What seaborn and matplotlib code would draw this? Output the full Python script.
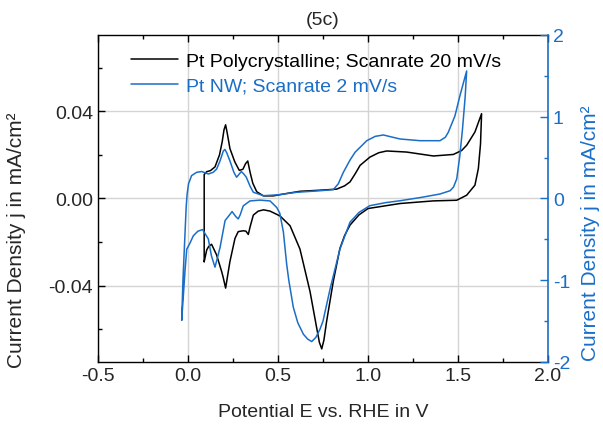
import numpy as np
import pandas as pd
import seaborn as sns
import matplotlib.pyplot as plt
from matplotlib.ticker import MultipleLocator

sns.set_theme(style="ticks")
plt.rcParams["font.family"] = ["Liberation Sans", "DejaVu Sans"]

blue = "#1a6ec8"

# Pt polycrystalline, 20 mV/s (left axis, mA/cm2) - one closed CV loop
poly_E = [0.09, 0.09, 0.104, 0.125, 0.15, 0.175, 0.19, 0.20, 0.209, 0.218, 0.233, 0.26,
          0.285, 0.305, 0.32, 0.332, 0.345, 0.36, 0.382, 0.419, 0.474, 0.548, 0.622,
          0.733, 0.826, 0.87, 0.9, 0.93, 0.956, 1.011, 1.06, 1.104, 1.215, 1.363,
          1.474, 1.52, 1.548, 1.594, 1.631,
          1.625, 1.613, 1.594, 1.548, 1.493, 1.363, 1.178, 1.0, 0.95, 0.9, 0.87,
          0.844, 0.807, 0.77, 0.755, 0.743, 0.73, 0.715, 0.678, 0.622, 0.567, 0.511,
          0.456, 0.42, 0.39, 0.363, 0.345, 0.335, 0.322, 0.307, 0.279, 0.261, 0.233,
          0.209, 0.195, 0.187, 0.159, 0.131, 0.115, 0.104, 0.09]
poly_j = [-0.029, 0.011, 0.0123, 0.0128, 0.0145, 0.020, 0.026, 0.0315, 0.0338, 0.030,
          0.0229, 0.0168, 0.0129, 0.0134, 0.016, 0.0172, 0.012, 0.007, 0.0031, 0.0012,
          0.0012, 0.0023, 0.0033, 0.0038, 0.0043, 0.0058, 0.0076, 0.0115, 0.0152,
          0.019, 0.021, 0.0218, 0.0213, 0.0195, 0.0202, 0.022, 0.0244, 0.0305, 0.0389,
          0.025, 0.0137, 0.0061, 0.0015, -0.0008, -0.0011, -0.0023, -0.0046, -0.0075,
          -0.0122, -0.017, -0.0229, -0.0381, -0.0564, -0.065, -0.069, -0.066, -0.0594,
          -0.0427, -0.0232, -0.0125, -0.008, -0.0058, -0.0052, -0.0058, -0.0076, -0.013,
          -0.0165, -0.015, -0.0148, -0.0152, -0.0183, -0.0289, -0.0411, -0.036, -0.0335,
          -0.0259, -0.021, -0.022, -0.0236, -0.029]

# Pt nanowires, 2 mV/s (right axis, mA/cm2)
nw_E = [-0.035, -0.028, -0.018, -0.01, -0.005, 0.003, 0.02, 0.048, 0.076, 0.113, 0.14,
        0.159, 0.178, 0.196, 0.205, 0.215, 0.233, 0.255, 0.27, 0.285, 0.296, 0.31, 0.324,
        0.345, 0.363, 0.419, 0.5, 0.604, 0.733, 0.807, 0.835, 0.863, 0.9, 0.928, 0.993,
        1.04, 1.085, 1.178, 1.289, 1.4, 1.43, 1.446, 1.483, 1.511, 1.548,
        1.54, 1.525, 1.51, 1.493, 1.475, 1.456, 1.40, 1.30, 1.18, 1.10, 1.01, 0.95, 0.9,
        0.844, 0.789, 0.75, 0.733, 0.71, 0.687, 0.665, 0.641, 0.61, 0.585, 0.56, 0.548,
        0.53, 0.51, 0.493, 0.456, 0.4, 0.344, 0.307, 0.29, 0.279, 0.265, 0.245, 0.224,
        0.206, 0.178, 0.15, 0.13, 0.113, 0.081, 0.055, 0.03, 0.01, -0.007, -0.017, -0.035]
nw_j = [-1.49, -1.0, -0.5, -0.1, 0.05, 0.18, 0.28, 0.32, 0.33, 0.30, 0.32, 0.36, 0.46,
        0.58, 0.60, 0.56, 0.46, 0.32, 0.26, 0.30, 0.33, 0.30, 0.26, 0.15, 0.076, 0.034,
        0.045, 0.076, 0.095, 0.108, 0.18, 0.32, 0.47, 0.565, 0.707, 0.76, 0.777, 0.728,
        0.707, 0.707, 0.75, 0.81, 1.01, 1.26, 1.56,
        1.25, 0.85, 0.52, 0.24, 0.14, 0.095, 0.055, 0.015, -0.027, -0.05, -0.088, -0.17,
        -0.29, -0.62, -1.11, -1.5, -1.6, -1.70, -1.75, -1.72, -1.66, -1.52, -1.33, -1.0,
        -0.8, -0.41, -0.18, -0.11, -0.03, -0.02, -0.03, -0.09, -0.2, -0.25, -0.22, -0.16,
        -0.22, -0.27, -0.6, -0.84, -0.70, -0.495, -0.38, -0.40, -0.455, -0.55, -0.62,
        -0.9, -1.49]

df_poly = pd.DataFrame({"E": poly_E, "j": poly_j})
df_nw = pd.DataFrame({"E": nw_E, "j": nw_j})

fig, ax = plt.subplots(figsize=(6.03, 4.27), dpi=100)
fig.subplots_adjust(left=0.1625, right=0.9088, top=0.9157, bottom=0.1499)
ax2 = ax.twinx()

sns.lineplot(data=df_poly, x="E", y="j", sort=False, estimator=None, color="black",
             lw=1.1, ax=ax, label="Pt Polycrystalline; Scanrate 20 mV/s", legend=False)
sns.lineplot(data=df_nw, x="E", y="j", sort=False, estimator=None, color=blue,
             lw=1.1, ax=ax2, label="Pt NW; Scanrate 2 mV/s", legend=False)

ax.set_xlim(-0.5, 2.0)
ax.set_ylim(-0.075, 0.075)
ax2.set_ylim(-2, 2)
ax.xaxis.set_major_locator(MultipleLocator(0.5))
ax.xaxis.set_minor_locator(MultipleLocator(0.25))
ax.yaxis.set_major_locator(MultipleLocator(0.04))
ax.yaxis.set_minor_locator(MultipleLocator(0.02))
ax2.yaxis.set_major_locator(MultipleLocator(1))
ax2.yaxis.set_minor_locator(MultipleLocator(0.5))
ax.xaxis.set_major_formatter(lambda v, p: f"{v:.1f}")
ax.yaxis.set_major_formatter(lambda v, p: f"{v:.2f}")
ax2.yaxis.set_major_formatter(lambda v, p: f"{v:.0f}")

ax.grid(True, which="major", color="#d4d4d4", lw=1)
ax.set_axisbelow(True)

ax.tick_params(which="both", direction="in", top=True, right=False, labelsize=14,
               color="black", width=1)
ax.tick_params(which="major", length=5)
ax.tick_params(which="minor", length=3)
ax2.tick_params(which="both", direction="in", colors=blue, labelsize=14, width=1)
ax2.tick_params(which="major", length=6)
ax2.tick_params(which="minor", length=3)
for s in ["left", "bottom", "top"]:
    ax.spines[s].set_color("black")
    ax.spines[s].set_linewidth(1)
ax.spines["right"].set_visible(False)
ax2.spines["right"].set_color(blue)
ax2.spines["right"].set_linewidth(1.2)
for s in ["left", "bottom", "top"]:
    ax2.spines[s].set_visible(False)

ax.set_xlabel("Potential E vs. RHE in V", fontsize=14)
ax.set_ylabel("Current Density j in mA/cm²", fontsize=15)
ax2.set_ylabel("Current Density j in mA/cm²", fontsize=15, color=blue)
ax.xaxis.set_label_coords(0.5, -0.125)
ax.yaxis.set_label_coords(-0.16, 0.376)
ax2.yaxis.set_label_coords(1.074, 0.398)
ax.set_title("(5c)", fontsize=14, pad=8)

h1, l1 = ax.get_legend_handles_labels()
h2, l2 = ax2.get_legend_handles_labels()
leg = ax2.legend(h1 + h2, l1 + l2, loc="upper left", bbox_to_anchor=(0.035, 1.0),
                 frameon=False, fontsize=14, handlelength=2.4, handletextpad=0.4,
                 labelspacing=0.35)
for t, c in zip(leg.get_texts(), ["black", blue]):
    t.set_color(c)

fig.savefig("out.png", dpi=100)
